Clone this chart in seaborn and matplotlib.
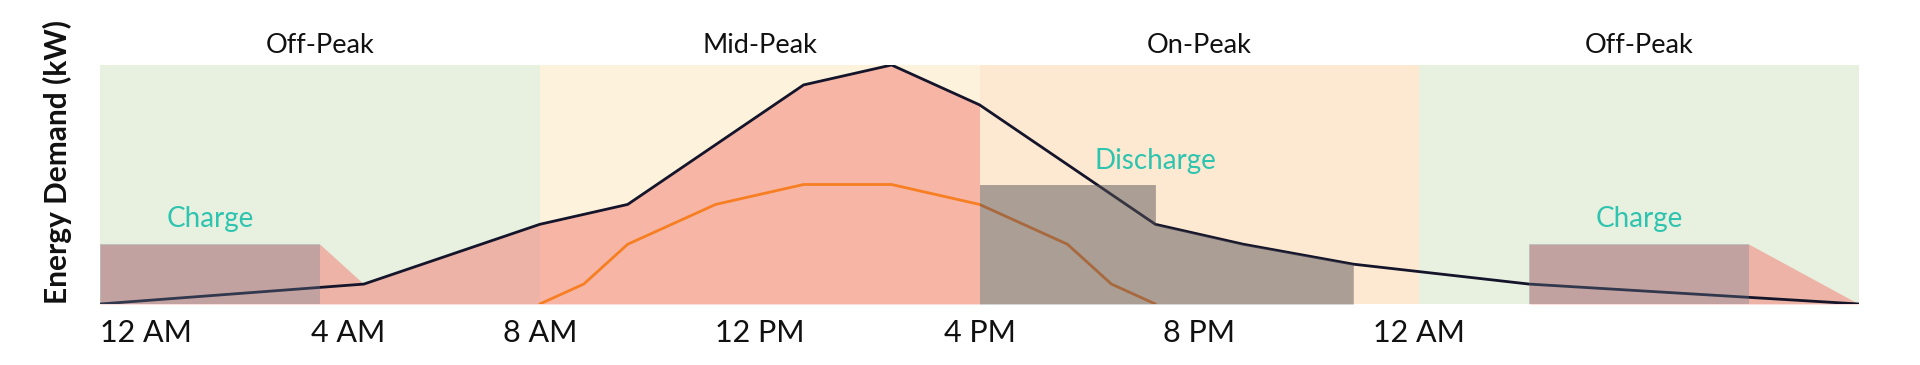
import matplotlib
matplotlib.use("Agg")
import matplotlib.pyplot as plt
import matplotlib.transforms as mtransforms
import seaborn as sns
import pandas as pd

# ---- data ----
demand_hours = [0, 4.8, 8, 9.6, 12.8, 14.4, 16, 19.2, 20.8, 22.8, 26, 32]
demand_vals = [0, 1, 4, 5, 11, 12, 10, 4, 3, 2, 1, 0]

solar_hours = [8, 8.8, 9.6, 11.2, 12.8, 14.4, 16, 17.6, 18.4, 19.2]
solar_vals = [0, 1, 3, 5, 6, 6, 5, 3, 1, 0]

# grid load (red area) segments
grid_left_hours = [0, 4, 4.8, 8, 9.6, 12.8, 14.4, 16]
grid_left_vals = [3, 3, 1, 4, 5, 11, 12, 10]
grid_right_hours = [26, 30, 32]
grid_right_vals = [3, 3, 0]

# battery
charge_periods = [(0, 4), (26, 30)]
charge_level = 3
discharge_hours = [16, 19.2, 19.2, 20.8, 22.8]
discharge_vals = [6, 6, 4, 3, 2]

periods = ["Off-Peak", "Mid-Peak", "On-Peak", "Off-Peak"]
period_bounds = [(0, 8), (8, 16), (16, 24), (24, 32)]
period_colors = ["#e8f0e0", "#fdf3dd", "#fde9d2", "#e8f0e0"]

tick_pos = [0, 4, 8, 12, 16, 20, 24]
tick_labels = ["12 AM", "4 AM", "8 AM", "12 PM", "4 PM", "8 PM", "12 AM"]

sns.set_theme(style="white")
plt.rcParams["font.family"] = ["Lato", "DejaVu Sans"]

fig = plt.figure(figsize=(19.2, 3.65), dpi=100)
ax = fig.add_axes([100 / 1920, 1 - 304 / 365, (1859 - 100) / 1920, (304 - 65) / 365])

# period bands
for (a, b), c, name in zip(period_bounds, period_colors, periods):
    ax.axvspan(a, b, ymin=0, ymax=1, color=c, lw=0, zorder=0)
    ax.text((a + b) / 2, 13.0, name, ha="center", va="center", fontsize=19.5,
            color="#111111", clip_on=False)

# red grid area
ax.fill_between(grid_left_hours, 0, grid_left_vals, color=(0.94, 0.47, 0.43), alpha=0.5, lw=0, zorder=1)
ax.fill_between(grid_right_hours, 0, grid_right_vals, color=(0.94, 0.47, 0.43), alpha=0.5, lw=0, zorder=1)

# lines
df_d = pd.DataFrame({"hour": demand_hours, "kw": demand_vals})
df_s = pd.DataFrame({"hour": solar_hours, "kw": solar_vals})
sns.lineplot(data=df_d, x="hour", y="kw", ax=ax, color="#14142a", lw=2.0, zorder=2)
sns.lineplot(data=df_s, x="hour", y="kw", ax=ax, color="#f77f22", lw=2.0, zorder=2)

# charge rects
for a, b in charge_periods:
    ax.fill_between([a, b], 0, [charge_level, charge_level], color=(0.43, 0.51, 0.59),
                    alpha=0.33, lw=0, zorder=3)
# discharge area
ax.fill_between(discharge_hours, 0, discharge_vals, color=(0.35, 0.33, 0.35),
                alpha=0.5, lw=0, zorder=3)

teal = "#2ec4b0"
ax.text(2, 4.27, "Charge", ha="center", va="center", fontsize=20, color=teal)
ax.text(28, 4.27, "Charge", ha="center", va="center", fontsize=20, color=teal)
ax.text(19.2, 7.2, "Discharge", ha="center", va="center", fontsize=20, color=teal)

ax.set_xlim(0, 32)
ax.set_ylim(0, 12)
ax.set_yticks([])
ax.set_xticks(tick_pos)
ax.set_xticklabels(tick_labels, fontsize=22, color="#111111")
ax.tick_params(axis="x", length=0, pad=11)
labels = ax.get_xticklabels()
labels[0].set_ha("left")
labels[1].set_transform(labels[1].get_transform() +
                        mtransforms.ScaledTranslation(0.28, 0, fig.dpi_scale_trans))
ax.set_xlabel("")
ax.set_ylabel("Energy Demand (kW)", fontsize=21.5, fontweight="bold", color="#111111",
              labelpad=20, loc="bottom")
for s in ax.spines.values():
    s.set_visible(False)

fig.savefig("out.png", dpi=100)
